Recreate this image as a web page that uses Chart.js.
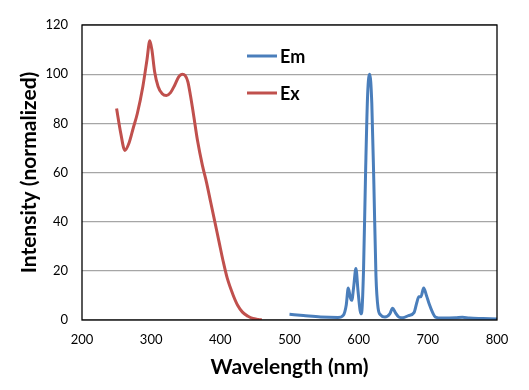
<!DOCTYPE html>
<html>
<head>
<meta charset="utf-8">
<script src="https://cdn.jsdelivr.net/npm/chart.js@4"></script>
<style>
  body { margin: 0; background: #fff; }
</style>
</head>
<body>
<canvas id="chart" width="529" height="390"></canvas>
<script>
// emission spectrum (blue)
const emWavelength = [500, 520, 545, 570, 578, 582, 585, 588, 590, 593, 596, 599, 602, 604, 607, 610, 613, 616, 619, 622, 625, 628, 632, 638, 645, 649, 653, 658, 664, 672, 680, 684, 687, 690, 694, 698, 702, 707, 711, 720, 740, 750, 760, 780, 800];
const emIntensity = [2.3, 1.8, 1.2, 1.0, 2, 6, 13, 9, 8, 14, 21, 12, 4, 2.5, 20, 60, 92, 100, 88, 55, 18, 5, 2, 1.2, 2.5, 4.8, 3, 1.2, 0.9, 1.8, 3, 7, 9.5, 9.5, 13, 10, 6.5, 3, 1.2, 0.8, 0.9, 1.1, 0.8, 0.6, 0.4];

// excitation spectrum (red)
const exWavelength = [250, 256, 262, 268, 274, 280, 288, 294, 298, 301, 305, 310, 316, 322, 328, 334, 340, 345, 349, 353, 357, 361, 367, 374, 380, 386, 392, 398, 404, 410, 418, 425, 432, 440, 447, 455, 460];
const exIntensity = [86, 76, 69, 72, 78, 84, 95, 106, 113.6, 110, 101, 95, 92, 91.3, 92.5, 95.5, 99, 100, 99.5, 97, 91, 84, 73, 63, 56, 48, 40, 32, 24, 17, 10.5, 6, 3.2, 1.5, 0.6, 0.2, 0];

const seriesNames = ["Em", "Ex"];
const seriesColors = ["#4a7ebb", "#c0504d"];

function toPoints(xs, ys) {
  return xs.map((x, i) => ({ x: x, y: ys[i] }));
}

// box around the plot area + legend inside it
const plotBox = {
  id: "plotBox",
  afterDraw(chart) {
    const ctx = chart.ctx;
    const a = chart.chartArea;
    ctx.save();
    ctx.strokeStyle = "#000";
    ctx.lineWidth = 1.3;
    ctx.strokeRect(a.left, a.top, a.right - a.left, a.bottom - a.top);

    ctx.font = "bold 18px Lato";
    ctx.textBaseline = "middle";
    chart.data.datasets.forEach((ds, i) => {
      const y = a.top + 31 + i * 37;
      const x = a.left + 165;
      ctx.strokeStyle = ds.borderColor;
      ctx.lineWidth = 3;
      ctx.beginPath();
      ctx.moveTo(x, y);
      ctx.lineTo(x + 30, y);
      ctx.stroke();
      ctx.fillStyle = "#000";
      ctx.fillText(ds.label, x + 33, y + 1);
    });
    ctx.restore();
  },
};

new Chart(document.getElementById("chart"), {
  type: "scatter",
  data: {
    datasets: [
      {
        label: seriesNames[0],
        data: toPoints(emWavelength, emIntensity),
        borderColor: seriesColors[0],
        backgroundColor: seriesColors[0],
      },
      {
        label: seriesNames[1],
        data: toPoints(exWavelength, exIntensity),
        borderColor: seriesColors[1],
        backgroundColor: seriesColors[1],
      },
    ],
  },
  options: {
    responsive: false,
    animation: false,
    showLine: true,
    elements: {
      point: { radius: 0 },
      line: { borderWidth: 3, cubicInterpolationMode: "monotone" },
    },
    layout: { padding: { left: 0, right: 32, top: 25, bottom: 0 } },
    plugins: {
      legend: { display: false },
      tooltip: { enabled: false },
    },
    scales: {
      x: {
        type: "linear",
        min: 200,
        max: 800,
        ticks: { stepSize: 100, padding: 12, color: "#000", font: { family: "Lato", size: 13 } },
        grid: { display: false, drawTicks: false },
        border: { display: false },
        title: {
          display: true,
          text: "Wavelength (nm)",
          color: "#000",
          font: { family: "Lato", size: 21, weight: "bold" },
          padding: { top: 0, bottom: 10 },
        },
        afterFit(scale) { scale.height = 70; },
      },
      y: {
        min: 0,
        max: 120,
        ticks: { stepSize: 20, padding: 14, color: "#000", font: { family: "Lato", size: 13 } },
        grid: { color: "#a6a6a6", lineWidth: 1.3, drawTicks: false },
        border: { display: false },
        title: {
          display: true,
          text: "Intensity (normalized)",
          color: "#000",
          font: { family: "Lato", size: 21, weight: "bold" },
          padding: { top: 17, bottom: 0 },
        },
        afterFit(scale) { scale.width = 82; },
      },
    },
  },
  plugins: [plotBox],
});
</script>
</body>
</html>
